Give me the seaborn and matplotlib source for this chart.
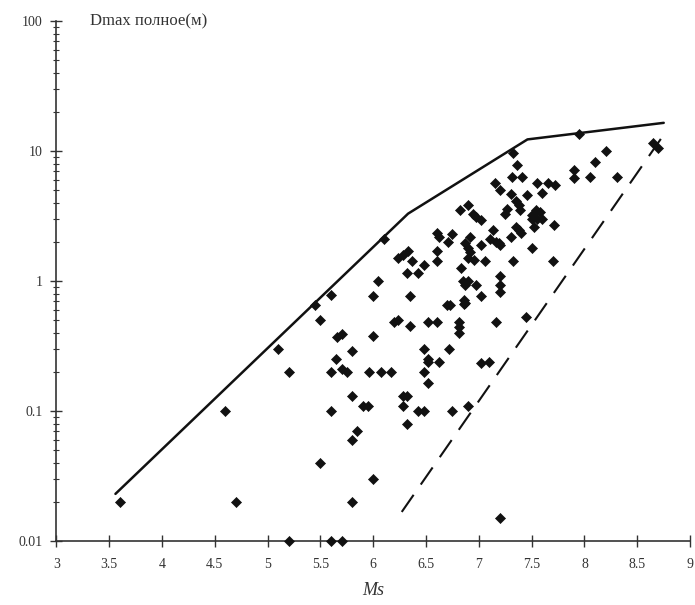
import numpy as np
import pandas as pd
import matplotlib
matplotlib.use('Agg')
import matplotlib.pyplot as plt
import seaborn as sns
from matplotlib.ticker import LogLocator, NullFormatter, FixedLocator, FixedFormatter

#  data
ms_points = [3.6, 4.7, 4.6, 5.1, 5.2, 5.2, 5.5, 5.6, 5.6, 5.5, 5.45, 5.65, 5.66, 5.7,
             5.7, 5.75, 5.6, 5.7, 6.1, 5.6, 5.8, 5.96, 6.07, 6.17, 6.0, 6.05, 6.0,
             6.2, 6.23, 6.35, 6.35, 6.23, 6.28, 6.33, 6.37, 6.48, 6.32, 6.42,
             6.6, 6.6, 6.6, 6.62, 6.52, 6.6, 6.48, 6.52, 6.48, 6.52, 5.8, 5.9, 5.95,
             6.28, 6.32, 6.28, 6.42, 6.48, 6.32, 5.85, 5.8, 6.0, 5.8, 7.2,
             6.7, 6.73, 6.87, 6.81, 6.81, 6.81, 7.16, 7.45, 6.52, 6.62, 6.72, 7.02, 7.1,
             6.75, 6.9, 6.85, 6.9, 6.87, 6.97, 7.02, 7.2, 7.2, 6.86, 6.86,
             7.32, 7.36, 7.31, 7.41, 7.15, 7.2, 7.55, 7.65, 7.72, 7.6, 7.3, 7.46,
             7.35, 7.38, 7.27, 7.25, 7.39, 7.54, 7.58, 7.5, 7.5, 7.55, 7.6, 7.71,
             6.9, 6.82, 6.94, 6.97, 7.02, 7.13, 7.11, 7.16, 7.19, 7.35, 7.38, 7.4,
             7.3, 7.5, 6.75, 6.71, 6.92, 6.87, 6.9, 6.92, 7.02, 6.83, 6.9, 6.95,
             7.06, 7.32, 7.7, 7.2, 7.95, 8.2, 8.1, 7.9, 7.9, 8.05, 8.31, 8.65, 8.7,
             7.52, 7.2]
dmax_points = [0.02, 0.02, 0.1, 0.3, 0.2, 0.01, 0.04, 0.1, 0.2, 0.5, 0.65, 0.25, 0.37, 0.39,
               0.21, 0.2, 0.01, 0.01, 2.1, 0.78, 0.29, 0.2, 0.2, 0.2, 0.77, 1.0, 0.38,
               0.48, 0.5, 0.77, 0.45, 1.5, 1.6, 1.7, 1.42, 1.34, 1.15, 1.15,
               2.35, 1.7, 1.42, 2.2, 0.48, 0.48, 0.3, 0.25, 0.2, 0.165, 0.13, 0.11, 0.11,
               0.13, 0.13, 0.11, 0.1, 0.1, 0.08, 0.07, 0.06, 0.03, 0.02, 0.015,
               0.65, 0.65, 0.68, 0.48, 0.44, 0.4, 0.48, 0.53, 0.24, 0.24, 0.3, 0.235, 0.24,
               0.1, 0.11, 1.0, 1.0, 0.93, 0.93, 0.77, 0.93, 0.83, 0.71, 0.66,
               9.7, 7.8, 6.3, 6.3, 5.7, 5.0, 5.7, 5.7, 5.5, 4.8, 4.7, 4.6,
               4.1, 3.85, 3.6, 3.3, 3.5, 3.5, 3.4, 3.2, 3.0, 3.0, 3.0, 2.7,
               3.85, 3.5, 3.3, 3.1, 2.95, 2.45, 2.1, 2.0, 1.95, 2.6, 2.45, 2.35,
               2.2, 1.78, 2.3, 2.0, 2.2, 1.95, 1.78, 1.67, 1.9, 1.26, 1.5, 1.45,
               1.42, 1.42, 1.42, 1.1, 13.5, 10.0, 8.3, 7.2, 6.2, 6.3, 6.3, 11.5, 10.5,
               2.6, 1.9]

# upper envelope (solid) and lower bound (dashed)
upper_ms = [3.56, 6.33, 7.46, 8.75]
upper_d = [0.023, 3.3, 12.3, 16.5]
lower_ms = [6.27, 8.74]
lower_d = [0.0167, 13.0]

x_ticks = [3, 3.5, 4, 4.5, 5, 5.5, 6, 6.5, 7, 7.5, 8, 8.5, 9]
x_labels = ['3', '3.5', '4', '4.5', '5', '5.5', '6', '6.5', '7', '7.5', '8', '8.5', '9']
y_ticks = [0.01, 0.1, 1, 10, 100]
y_labels = ['0.01', '0.1', '1', '10', '100']

pts = pd.DataFrame({'Ms': ms_points, 'Dmax': dmax_points})
up = pd.DataFrame({'Ms': upper_ms, 'Dmax': upper_d})
low = pd.DataFrame({'Ms': lower_ms, 'Dmax': lower_d})

sns.set_style('white')
plt.rcParams['font.family'] = ['Liberation Serif', 'DejaVu Serif']
ink = '#111111'
txt = '#333333'

fig = plt.figure(figsize=(6.95, 6.05), dpi=100)
ax = fig.add_axes([0.081, 0.106, 0.912, 0.859])

sns.lineplot(data=up, x='Ms', y='Dmax', color=ink, linewidth=1.8, sort=False, ax=ax)
sns.lineplot(data=low, x='Ms', y='Dmax', color=ink, linewidth=1.5, sort=False, ax=ax,
             dashes=False)
ax.lines[-1].set_dashes([10, 6])
sns.scatterplot(data=pts, x='Ms', y='Dmax', marker='D', s=26, color=ink,
                edgecolor=ink, linewidth=0.5, ax=ax, zorder=3, clip_on=False)

ax.set_yscale('log')
ax.set_xlim(3, 9)
ax.set_ylim(0.01, 100)
ax.xaxis.set_major_locator(FixedLocator(x_ticks))
ax.xaxis.set_major_formatter(FixedFormatter(x_labels))
ax.yaxis.set_major_locator(FixedLocator(y_ticks))
ax.yaxis.set_major_formatter(FixedFormatter(y_labels))
ax.yaxis.set_minor_locator(LogLocator(base=10, subs=np.arange(2, 10)))
ax.yaxis.set_minor_formatter(NullFormatter())

for s in ['top', 'right']:
    ax.spines[s].set_visible(False)
for s in ['left', 'bottom']:
    ax.spines[s].set_color(txt)
    ax.spines[s].set_linewidth(1.2)

ax.tick_params(axis='x', which='major', bottom=True, direction='inout', length=8, width=1,
               color=txt, labelsize=10, labelcolor=txt, pad=8)
ax.tick_params(axis='y', which='major', left=True, direction='inout', length=8, width=1,
               color=txt, labelsize=10, labelcolor=txt, pad=6)
ax.tick_params(axis='y', which='minor', left=True, direction='inout', length=5, width=0.8,
               color=txt)

ax.set_xlabel('Ms', fontsize=13, style='italic', color=txt, labelpad=8)
ax.set_ylabel('')
ax.text(3.32, 100, 'Dmax полное(м)', fontsize=12, color=txt, va='center', ha='left')

fig.savefig('out.png', dpi=100)
